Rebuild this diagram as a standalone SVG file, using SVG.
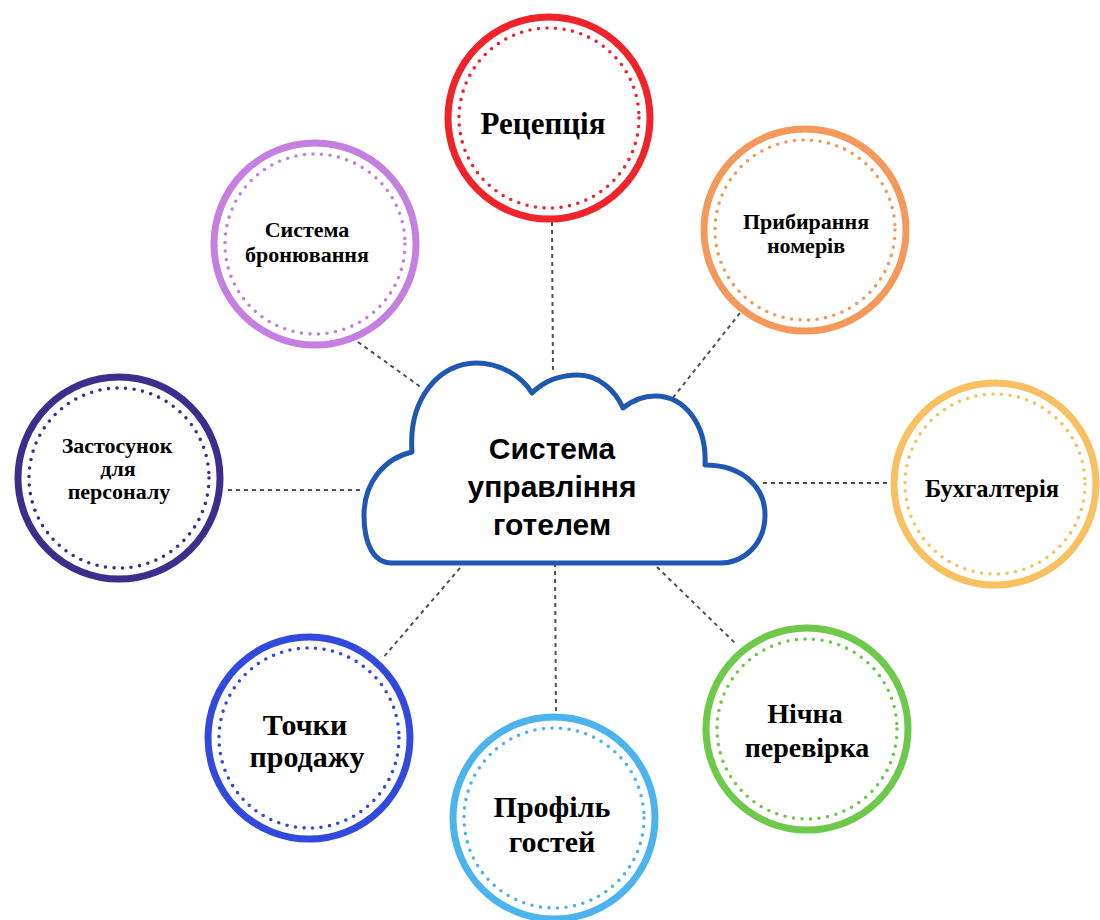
<svg xmlns="http://www.w3.org/2000/svg" width="1100" height="920" viewBox="0 0 1100 920">
  <style>
    .link { stroke: #505050; stroke-width: 2; stroke-dasharray: 4 4; fill: none; }
    .ring { fill: #ffffff; stroke-width: 7; }
    .dots { fill: none; stroke-width: 3.6; stroke-dasharray: 0 8.6; stroke-linecap: round; }
    .label { font-family: "Liberation Serif", "Times New Roman", serif; font-weight: bold; fill: #000000; text-anchor: middle; }
    .hub { font-family: "Liberation Sans", Arial, sans-serif; font-weight: bold; font-size: 30px; fill: #000000; text-anchor: middle; }
  </style>
  <rect width="1100" height="920" fill="#ffffff"/>

  <!-- dashed connectors from the hub to every module -->
  <g id="connectors">
    <line class="link" x1="552" y1="222" x2="553" y2="374"/>
    <line class="link" x1="740" y1="313" x2="672" y2="399"/>
    <line class="link" x1="763" y1="483" x2="890" y2="483"/>
    <line class="link" x1="657" y1="567" x2="737" y2="645"/>
    <line class="link" x1="555" y1="563" x2="556" y2="714"/>
    <line class="link" x1="460" y1="568" x2="382" y2="659"/>
    <line class="link" x1="228" y1="490" x2="364" y2="490"/>
    <line class="link" x1="358" y1="342" x2="422" y2="388"/>
  </g>

  <!-- central cloud -->
  <g id="hub">
    <path d="M392 563 C374 563 364 545 364 515 C364 482 385 458 412 452 C408 398 440 363 476 363 C500 363 522 376 532 393 C544 381 560 375 578 375 C598 375 615 390 623 408 C633 400 645 396 655 396 C685 396 707 425 705 465 C740 465 765 485 765 515 C765 543 745 563 720 563 Z" fill="#ffffff" stroke="#1f58b3" stroke-width="5" stroke-linejoin="round"/>
    <text class="hub" x="552" y="459">Система</text>
    <text class="hub" x="552" y="497">управління</text>
    <text class="hub" x="552" y="535">готелем</text>
  </g>

  <g id="reception">
    <circle class="ring" cx="549" cy="118" r="101" stroke="#f0232b"/>
    <circle class="dots" cx="549" cy="118" r="90" stroke="#f0232b"/>
    <text class="label" x="543" y="134" font-size="31">Рецепція</text>
  </g>

  <g id="housekeeping">
    <circle class="ring" cx="805" cy="230" r="101" stroke="#f4995a"/>
    <circle class="dots" cx="805" cy="230" r="90" stroke="#f4995a"/>
    <text class="label" x="806" y="229" font-size="22">Прибирання</text>
    <text class="label" x="806" y="253" font-size="22">номерів</text>
  </g>

  <g id="accounting">
    <circle class="ring" cx="995" cy="484" r="101" stroke="#f8c060"/>
    <circle class="dots" cx="995" cy="484" r="90" stroke="#f8c060"/>
    <text class="label" x="992" y="497" font-size="24.5">Бухгалтерія</text>
  </g>

  <g id="night-audit">
    <circle class="ring" cx="807" cy="729" r="101" stroke="#6cc94a"/>
    <circle class="dots" cx="807" cy="729" r="90" stroke="#6cc94a"/>
    <text class="label" x="805" y="723" font-size="28">Нічна</text>
    <text class="label" x="807" y="757" font-size="28">перевірка</text>
  </g>

  <g id="guest-profile">
    <circle class="ring" cx="554" cy="818" r="101" stroke="#4bb3ee"/>
    <circle class="dots" cx="554" cy="818" r="90" stroke="#4bb3ee"/>
    <text class="label" x="552" y="817" font-size="30">Профіль</text>
    <text class="label" x="552" y="852" font-size="30">гостей</text>
  </g>

  <g id="point-of-sale">
    <circle class="ring" cx="309" cy="738" r="101" stroke="#3149dc"/>
    <circle class="dots" cx="309" cy="738" r="90" stroke="#3149dc"/>
    <text class="label" x="305" y="735" font-size="30">Точки</text>
    <text class="label" x="307" y="767" font-size="30">продажу</text>
  </g>

  <g id="staff-app">
    <circle class="ring" cx="119" cy="478" r="101" stroke="#3f2d8e"/>
    <circle class="dots" cx="119" cy="478" r="90" stroke="#3f2d8e"/>
    <text class="label" x="117" y="453" font-size="22">Застосунок</text>
    <text class="label" x="118" y="476" font-size="22">для</text>
    <text class="label" x="119" y="499" font-size="22">персоналу</text>
  </g>

  <g id="booking">
    <circle class="ring" cx="315" cy="244" r="101" stroke="#c57fe0"/>
    <circle class="dots" cx="315" cy="244" r="90" stroke="#c57fe0"/>
    <text class="label" x="307" y="237" font-size="22">Система</text>
    <text class="label" x="307" y="262" font-size="22">бронювання</text>
  </g>
</svg>
